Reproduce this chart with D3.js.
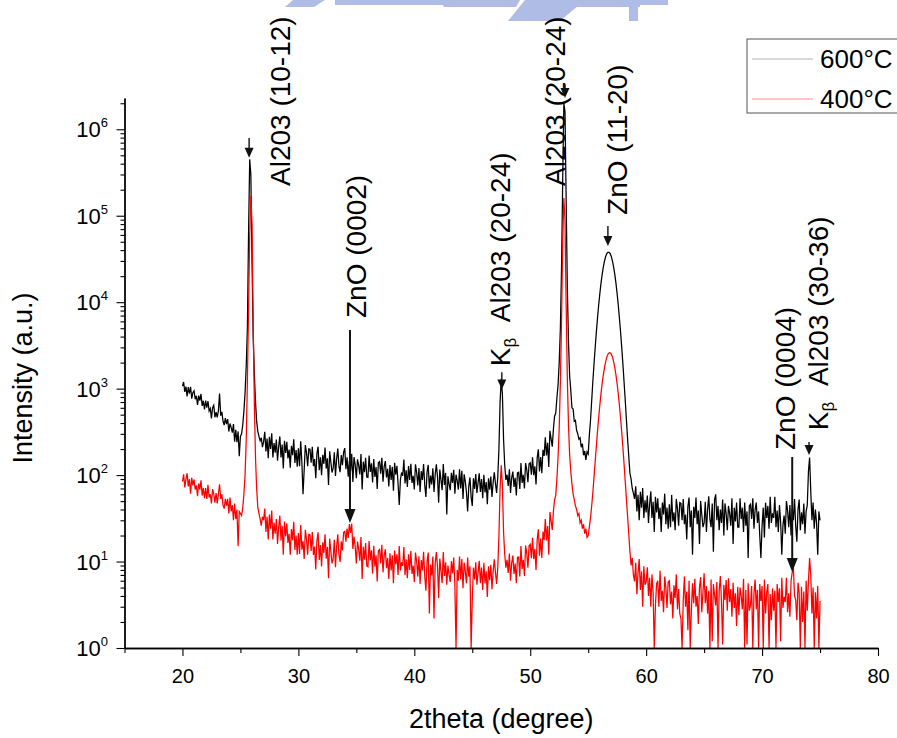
<!DOCTYPE html>
<html><head><meta charset="utf-8">
<script src="https://cdn.jsdelivr.net/npm/d3@7"></script>
<style>
body{margin:0;background:#fff}
svg{display:block}
text{font-family:"Liberation Sans",Arial,sans-serif;fill:#000}
</style>
</head><body><svg id="c" width="897" height="738"></svg>
<script>
// ---------- data ----------
const thetaStart = 20, thetaStep = 0.1;   // 2theta grid of the scans (20.0 .. 75.0)

const intensity600 = [
1070,1194,917,1054,813,1044,877,1050,765,898,
945,754,824,646,831,727,868,630,725,576,
726,601,719,552,590,453,603,643,466,535,
465,554,880,487,538,419,378,457,389,444,
319,395,357,310,389,243,334,240,320,165,
280,300,380,550,900,1800,5000,60000,450000,300000,
30000,4000,1500,700,420,320,280,250,270,210,
244,317,188,264,157,278,201,304,160,234,
182,257,147,215,280,160,226,119,249,180,
243,156,197,122,218,170,260,138,195,125,
204,127,246,141,60,115,222,181,127,201,
199,139,212,127,153,92,177,213,114,161,
100,172,135,208,119,156,77,188,142,107,
120,183,98,155,203,127,108,171,130,183,
205,117,161,96,146,111,176,83,162,132,
92,152,130,102,175,68,143,108,159,95,
94,168,109,137,82,153,95,124,69,139,
143,104,159,84,125,145,94,118,74,131,
88,125,66,139,101,128,79,45,88,107,
98,151,80,114,73,127,88,135,81,98,
68,133,108,76,121,64,111,88,134,77,
56,109,131,70,99,78,120,64,101,133,
96,48,116,88,67,134,77,106,35,97,
79,67,106,81,115,61,101,86,68,117,
70,112,53,102,84,63,38,74,94,56,
44,92,69,103,62,81,105,64,90,54,
101,63,83,46,92,68,96,56,82,108,
80,62,95,200,700,1300,850,260,130,88,
101,75,117,62,93,110,73,93,58,106,
108,69,138,81,101,70,138,116,83,135,
139,101,161,100,126,78,158,199,110,162,
105,196,167,273,169,236,124,326,263,213,
340,480,520,780,1100,2000,5000,25000,250000,2000000,
1600000,150000,15000,3500,1400,950,600,580,420,430,
330,300,260,270,210,230,170,190,150,185,
175,290,430,720,1200,1900,2950,4450,6450,9150,
12400,16400,20700,25200,29600,33500,36400,37800,37800,36400,
33500,29600,25200,20700,16400,12400,9100,6400,4400,2900,
1870,1160,720,430,260,165,105,90,70,62,
53,74,38,59,30,64,42,71,32,51,
37,58,28,46,65,32,49,22,56,37,
54,31,42,22,48,35,61,27,42,24,
46,25,59,29,37,23,53,41,26,48,
47,30,53,27,35,18,43,55,25,39,
12,43,32,55,27,39,16,50,35,25,
28,49,22,40,57,31,25,47,13,52,
60,30,44,23,40,28,52,20,47,36,
23,44,36,26,54,16,42,29,48,25,
25,54,31,42,22,48,26,38,11,44,
46,31,54,24,40,48,28,38,20,11,
26,42,19,48,32,44,24,56,28,36,
32,56,25,39,22,45,29,12,26,34,
21,50,39,25,45,20,41,30,53,26,
17,40,52,23,37,27,47,21,38,45,
110,160,65,30,48,24,40,28,12,38,
30];

const intensity400 = [
84,102,72,90,105,74,90,61,93,76,
89,68,76,57,80,68,87,58,71,54,
71,53,77,55,60,47,69,60,48,62,
47,60,78,53,60,45,41,53,44,53,
36,55,38,45,30,47,31,40,15,38,
36,34,42,60,100,250,1200,8000,60000,170000,
80000,6000,700,160,70,42,36,31,26,33,
30,41,22,33,18,35,24,39,18,28,
21,31,16,25,34,17.5,26,12,29,19.5,
27.6,16.4,21,12,23.7,17.7,28.8,13.6,20,12,
21.4,12.2,26.5,13.7,17.2,10.7,23.3,18.3,12,20.6,
20.4,13.3,22,11.9,14.9,8.1,17.5,21.8,10.4,15.5,
8.8,16.7,12.6,20.7,10.8,14.8,6.4,18.4,13.2,9.5,
10.8,17.9,8.6,14.9,20.6,11.9,9.9,17.1,13.4,21.7,
22.4,17,24.1,18.8,27.2,21.5,27.4,14,19.5,14.9,
9.5,17,13.8,10.2,19.2,6.3,14.8,10.5,16.4,8.9,
8.7,17.3,10.3,13.5,7.3,15.2,8.7,11.8,5.9,13.3,
13.8,9.5,15.6,7.5,11.7,13.9,8.4,11,6.3,12.5,
7.9,11.8,5.6,13.4,9.3,12.1,7,15.1,7.9,9.8,
8.9,14.7,7,10.6,6.4,12.1,8,13.2,7.2,9,
5.8,12.7,10.1,6.7,11.5,5.5,10.4,7.9,13,6.8,
4.6,10.1,12.7,2.5,9.2,6.9,11.4,2.2,9.4,12.9,
8.8,3.8,10.8,7.8,5.6,12.9,6.8,9.8,5.4,9,
7,5.8,10.1,7.3,11.1,5.3,1,8,6,11.4,
6.2,10.7,4.9,9.7,7.7,5.6,11.1,6.7,8.8,1,
3.6,8.5,6.2,9.8,5.4,7.4,10.2,5.6,8.5,4.7,
9.7,5.6,7.7,3.9,8.8,6.1,9.2,4.8,7.7,10.6,
7.5,5.5,8.5,20,70,130,75,22,12,8.5,
10.5,7.4,12.4,6,9.6,11.7,7.2,9.5,5.6,11.2,
11.3,6.7,15.1,8.2,10.5,6.8,15.3,12.5,8.5,15.2,
15.8,10.9,18.8,10.7,14,8,18,23.6,11.7,18.4,
11,22.2,17.8,31,17.5,25.8,12,37.3,29.5,23.2,
38,52,58,90,160,350,1200,6000,50000,160000,
90000,9000,1300,380,170,110,78,60,52,44,
40,34,36,28,30,24,27,21,24,19,
20,25,32,44,62,94,142,213,316,456,
636,865,1135,1430,1740,2040,2300,2500,2600,2600,
2500,2300,2040,1735,1420,1125,855,625,445,306,
203,131,83,52,33,21,13,9,11,7,
5.9,9.7,4.2,7.4,10.7,4.7,7.7,3,8.8,5.4,
5.8,8.6,4,6.5,3,7.1,4.4,1,3.1,5.5,
6,3,7.8,3.5,4.6,2.6,6.7,5,2.9,5.8,
6,3.2,4.5,2.2,5.3,3.8,7.1,2.8,4.8,2.5,
2.2,1,3.6,6.7,3,4.5,1.6,6,1,2.7,
5.6,3.3,6.3,3,4,1.9,5,6.6,2.6,4.4,
7.3,3.3,5.2,2.5,4.6,1,6.2,1.2,5.5,4.1,
3.1,5.8,1,4.6,6.8,3.4,1.1,5.4,3.6,6.1,
2.7,6.4,3.4,4.8,2.3,5.7,2.9,4.3,1.8,5.1,
2.4,5,4,2.8,6.3,1,4.7,1.1,5.6,2.7,
3.1,5.2,1,4.2,6.2,2.8,4.7,1,5.5,3.5,
5.2,1,6.2,2.5,4.4,5.5,1,4.2,2.1,4.9,
2.7,4.6,1,5.5,3.4,4.9,1.2,6.5,2.9,3.9,
3.4,6.5,2.6,4.3,2.3,6,7.5,8.5,4,3.6,
2.1,5.7,4.3,1,5.1,2,4.5,1,6,2.7,
6,11,7,2.5,5,1,4.4,2.2,5.2,1,
3.5];

const seriesNames = ["600\u00B0C", "400\u00B0C"];
const xDomain = [15, 80];
const yDomain = [1, 2.3e6];
const xMajorTicks = [20, 30, 40, 50, 60, 70, 80];
const xMinorTicks = [15, 25, 35, 45, 55, 65, 75];
const yMajorExponents = [0, 1, 2, 3, 4, 5, 6];
const xTitle = "2theta (degree)";
const yTitle = "Intensity (a.u.)";

// peak annotations (2theta, log10 intensity)
const annotText      = ["Al203 (10-12)", "ZnO (0002)", "K|\u03B2|  Al203 (20-24)", "Al203 (20-24)", "ZnO (11-20)", "ZnO (0004)", "K|\u03B2|  Al203 (30-36)"];
const annotTextTheta = [28.4, 35.0, 47.4, 52.1, 57.5, 72.0, 74.85];
const annotTextLog   = [5.344, 3.817, 3.26, 5.344, 5.009, 2.29, 2.52];
const arrowTheta     = [25.75, 34.45, 47.55, 53.0, 56.7, 72.6, 74.05];
const arrowFromLog   = [5.90, 3.678, 3.19, 6.52, 4.881, 2.209, 2.383];
const arrowToLog     = [5.67, 1.446, 2.99, 6.362, 4.650, 0.879, 2.233];

// ---------- drawing ----------
const svg = d3.select("#c");
const L = 124.5, R = 878, T = 98, B = 648;
const x = d3.scaleLinear(xDomain, [L, R]);
const y = d3.scaleLog(yDomain, [B, T]);

// faint watermark at top
const wm = svg.append("g").attr("fill", "#aebce6");
[[[293,0],[325,0],[314,7],[285,7]],
 [[335,0],[450,0],[450,5],[335,5]],
 [[440,0],[520,0],[516,7],[444,7]],
 [[525,0],[585,0],[560,21],[508,21]],
 [[560,0],[640,0],[640,7],[560,7]],
 [[629,0],[638,0],[638,21],[629,21]],
 [[638,0],[668,0],[668,5],[638,5]]].forEach(p =>
  wm.append("polygon").attr("points", p.map(q => q.join(",")).join(" ")));

svg.append("defs").append("clipPath").attr("id", "clip")
  .append("rect").attr("x", L).attr("y", T - 10).attr("width", R - L).attr("height", B - T + 10);

const line = d3.line()
  .x((d, i) => x(thetaStart + i * thetaStep))
  .y(d => y(Math.max(d, 1)));

const plot = svg.append("g").attr("clip-path", "url(#clip)");
plot.append("path").datum(intensity600).attr("d", line)
  .attr("fill", "none").attr("stroke", "#000").attr("stroke-width", 1.25);
plot.append("path").datum(intensity400).attr("d", line)
  .attr("fill", "none").attr("stroke", "#ff0000").attr("stroke-width", 1.25);

// axes
const yMinor = [];
yMajorExponents.forEach(e => { for (let m = 2; m <= 9; m++) { const v = m * Math.pow(10, e); if (v <= yDomain[1]) yMinor.push(v); } });
const yMajor = yMajorExponents.map(e => Math.pow(10, e));

const gx = svg.append("g").attr("transform", `translate(0,${B})`);
gx.call(d3.axisBottom(x).tickValues(xMajorTicks).tickSize(8).tickSizeOuter(0).tickPadding(6));
gx.selectAll("text").attr("font-size", 20).attr("font-family", "Liberation Sans, Arial, sans-serif").attr("dy", "1.05em");
const gx2 = svg.append("g").attr("transform", `translate(0,${B})`);
gx2.call(d3.axisBottom(x).tickValues(xMinorTicks).tickSize(5).tickSizeOuter(0).tickFormat(""));

const gy = svg.append("g").attr("transform", `translate(${L},0)`);
gy.call(d3.axisLeft(y).tickValues(yMajor).tickSize(8).tickSizeOuter(0).tickFormat(""));
const gy2 = svg.append("g").attr("transform", `translate(${L},0)`);
gy2.call(d3.axisLeft(y).tickValues(yMinor).tickSize(4).tickSizeOuter(0).tickFormat(""));
svg.selectAll(".domain").attr("stroke", "#000").attr("stroke-width", 1.3);
svg.selectAll(".tick line").attr("stroke", "#000").attr("stroke-width", 1.1);

// y tick labels 10^n
yMajorExponents.forEach(e => {
  const t = svg.append("text").attr("x", 108).attr("y", y(Math.pow(10, e)) + 8).attr("text-anchor", "end");
  t.append("tspan").attr("font-size", 22).text("10");
  t.append("tspan").attr("font-size", 13).attr("dy", -10).text(e);
});

// axis titles
svg.append("text").attr("x", (L + R) / 2).attr("y", 728).attr("text-anchor", "middle")
  .attr("font-size", 27).text(xTitle);
svg.append("text").attr("transform", `translate(32,${(T + B) / 2 + 5}) rotate(-90)`)
  .attr("text-anchor", "middle").attr("font-size", 27).text(yTitle);

// annotations
const ag = svg.append("g");
annotText.forEach((s, i) => {
  const cx = x(annotTextTheta[i]), by = y(Math.pow(10, annotTextLog[i]));
  const t = ag.append("text").attr("transform", `translate(${cx},${by}) rotate(-90)`)
    .attr("font-size", 28).attr("dy", "0.36em");
  const parts = s.split("|");
  if (parts.length === 3) {
    t.append("tspan").text(parts[0]);
    t.append("tspan").attr("font-size", 17).attr("dy", 6).text(parts[1]);
    t.append("tspan").attr("dy", -6).style("white-space", "pre").text(parts[2]);
  } else {
    t.text(s);
  }
  const ax = x(arrowTheta[i]);
  const y0 = y(Math.pow(10, arrowFromLog[i])), y1 = y(Math.pow(10, arrowToLog[i]));
  const long = (y1 - y0) > 60;
  const hl = long ? 14 : 10, hw = long ? 5.5 : 4.5;
  ag.append("line").attr("x1", ax).attr("x2", ax).attr("y1", y0).attr("y2", y1 - hl + 1)
    .attr("stroke", "#111").attr("stroke-width", long ? 2 : 1.4);
  ag.append("polygon").attr("points", `${ax - hw},${y1 - hl} ${ax + hw},${y1 - hl} ${ax},${y1}`).attr("fill", "#111");
});

// legend
const lg = svg.append("g");
lg.append("rect").attr("x", 747).attr("y", 39).attr("width", 180).attr("height", 74)
  .attr("fill", "#fff").attr("stroke", "#555").attr("stroke-width", 1);
const legColors = ["#b0b0b0", "#ff8c8c"];
seriesNames.forEach((n, i) => {
  const ly = 59 + i * 40;
  lg.append("line").attr("x1", 752).attr("x2", 813).attr("y1", ly).attr("y2", ly)
    .attr("stroke", legColors[i]).attr("stroke-width", 1);
  lg.append("text").attr("x", 820).attr("y", ly + 9).attr("font-size", 26).text(n);
});
</script>
</body></html>
